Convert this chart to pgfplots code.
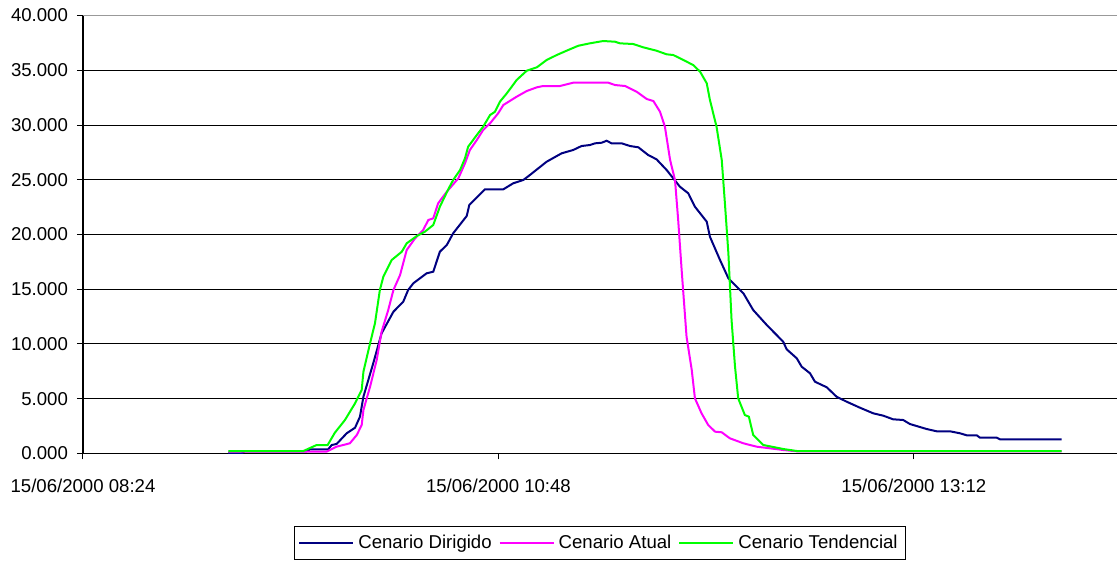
\documentclass[border=0pt]{standalone}
\usepackage{pgfplots}
\pgfplotsset{compat=1.18}
\usepackage{fontspec}
\setmainfont{Liberation Sans}
\definecolor{cdir}{RGB}{0,0,128}
\definecolor{catu}{RGB}{255,0,255}
\definecolor{cten}{RGB}{0,255,0}
\begin{document}
\begin{tikzpicture}
\begin{axis}[
  name=ax,
  scale only axis,
  width=517pt, height=219pt,
  xmin=504, xmax=862.4,
  ymin=0, ymax=40000,
  scaled y ticks=false,
  scaled x ticks=false,
  axis x line*=bottom, axis y line*=left,
  axis line style={black, line width=0.6pt},
  xtick={504,648,792},
  xticklabels={15/06/2000 08:24,15/06/2000 10:48,15/06/2000 13:12},
  ytick={0,5000,10000,15000,20000,25000,30000,35000},
  yticklabels={0.000,5.000,10.000,15.000,20.000,25.000,30.000,35.000},
  extra y ticks={40000},
  extra y tick labels={40.000},
  extra y tick style={grid style={gray!80, line width=0.6pt}},
  tick align=outside,
  major tick length=3pt,
  tick style={black, line width=0.5pt},
  ymajorgrids,
  grid style={black, line width=0.5pt},
  ticklabel style={font=\fontsize{9.3}{11}\selectfont},
  xticklabel style={yshift=-6pt},
  yticklabel style={xshift=-1pt},
  legend columns=-1,
  legend style={at={(0.5,-0.166)}, anchor=north, draw=black, line width=0.6pt,
    font=\fontsize{9.3}{11}\selectfont, inner sep=2pt,
    /tikz/every even column/.append style={column sep=1.5pt}},
  legend image code/.code={\draw[#1] (0pt,0pt) -- (27pt,0pt);},
  every axis plot/.append style={line width=1pt},
]
\addplot[cdir] coordinates {
(554.3,0) (559,0) (560,200) (581.5,200) (582.7,384) (589.0,384) (590.2,776)
(591.9,868) (595.4,1845) (598.3,2356) (600.0,3361) (601.2,5187) (604.6,8237)
(607.5,10977) (611.6,12949) (615.0,13862) (616.7,14931) (618.5,15543)
(623.1,16456) (625.4,16602) (627.7,18428) (630.1,19040) (632.3,20109)
(637.0,21689) (637.9,22693) (643.3,24127) (649.7,24127) (653.1,24675)
(656.6,24976) (658.9,25433) (664.7,26647) (669.9,27414) (673.9,27716)
(676.8,28081) (679.7,28172) (681.5,28327) (683.8,28382) (685.5,28565)
(687.2,28327) (690.7,28327) (693.6,28081) (696.5,27962) (699.9,27259)
(702.8,26866) (706.3,25889) (710.9,24364) (713.8,23761) (716.1,22538)
(720.2,21168) (721.3,19798) (724.8,17670) (727.7,15999) (732.9,14629)
(736.3,13104) (741.0,11735) (746.7,10210) (747.9,9515) (751.4,8694)
(753.1,7927) (756.0,7324) (757.7,6557) (761.8,6045) (765.2,5187)
(768.7,4730) (773.3,4182) (777.9,3671) (781.4,3452) (784.8,3123)
(788.3,3059) (790.6,2694) (796.4,2237) (799.9,2027) (804.5,2027)
(808.0,1845) (810.3,1662) (813.8,1662) (814.9,1443) (820.7,1443)
(821.8,1297) (843.2,1297)
};
\addlegendentry{Cenario Dirigido}
\addplot[catu] coordinates {
(554.4,180) (588.5,180) (591.9,621) (596.5,931) (598.9,1689) (600.6,2603)
(601.2,3972) (603.5,6100) (605.8,8538) (607.5,11123) (609.8,13104)
(611.6,14931) (613.9,16300) (616.2,18584) (619.1,19652) (621.9,20410)
(623.7,21323) (625.4,21478) (627.1,22848) (630.1,23908) (634.1,25131)
(636.4,26501) (638.1,27716) (640.5,28629) (642.7,29542) (645.1,30154)
(647.9,31067) (649.7,31825) (654.3,32583) (657.8,33103) (661.3,33441)
(663.5,33560) (669.3,33560) (673.9,33862) (686.1,33862) (688.4,33651)
(691.9,33560) (695.9,33040) (699.4,32373) (701.7,32190) (704.0,31213)
(705.7,29844) (707.5,26803) (709.2,24976) (710.3,21323) (711.5,16758)
(713.2,10666) (715.0,7625) (716.1,5041) (718.4,3671) (720.7,2603)
(723.1,1991) (725.4,1936) (728.2,1388) (732.9,931) (737.5,621)
(742.1,475) (746.7,320) (751.4,200) (843.2,200)
};
\addlegendentry{Cenario Atual}
\addplot[cten] coordinates {
(554.4,228) (580.4,228) (585.0,776) (588.8,776) (591.3,1899) (594.8,3059)
(598.3,4584) (600.6,5799) (601.2,7470) (603.5,10063) (605.2,11890)
(606.9,14931) (608.1,16145) (611.0,17670) (614.5,18428) (616.2,19195)
(619.7,19862) (622.5,20255) (625.4,20867) (627.7,22538) (630.6,24127)
(632.3,24976) (634.7,25889) (636.4,26958) (637.5,28017) (640.5,29085)
(642.7,29844) (645.1,30912) (646.8,31213) (648.5,32126) (650.9,32893)
(652.6,33496) (654.3,34108) (657.8,34957) (661.3,35268) (664.7,35935)
(668.2,36391) (671.6,36784) (675.7,37240) (679.7,37459) (684.3,37670)
(688.4,37606) (690.1,37459) (694.7,37396) (698.2,37094) (702.8,36784)
(706.3,36455) (708.6,36391) (712.1,35935) (715.5,35478) (717.9,34866)
(720.2,33807) (721.3,32282) (723.6,29844) (725.4,26803) (726.5,22848)
(727.7,18282) (728.8,12191) (730.0,7927) (731.1,5041) (733.4,3516)
(734.8,3361) (736.3,1689) (739.8,776) (746.7,411) (751.4,228) (843.2,228)
};
\addlegendentry{Cenario Tendencial}
\end{axis}
\path ([shift={(-41.5pt,-53.75pt)}]ax.south west) rectangle ([shift={(1pt,7.75pt)}]ax.north east);
\end{tikzpicture}
\end{document}
